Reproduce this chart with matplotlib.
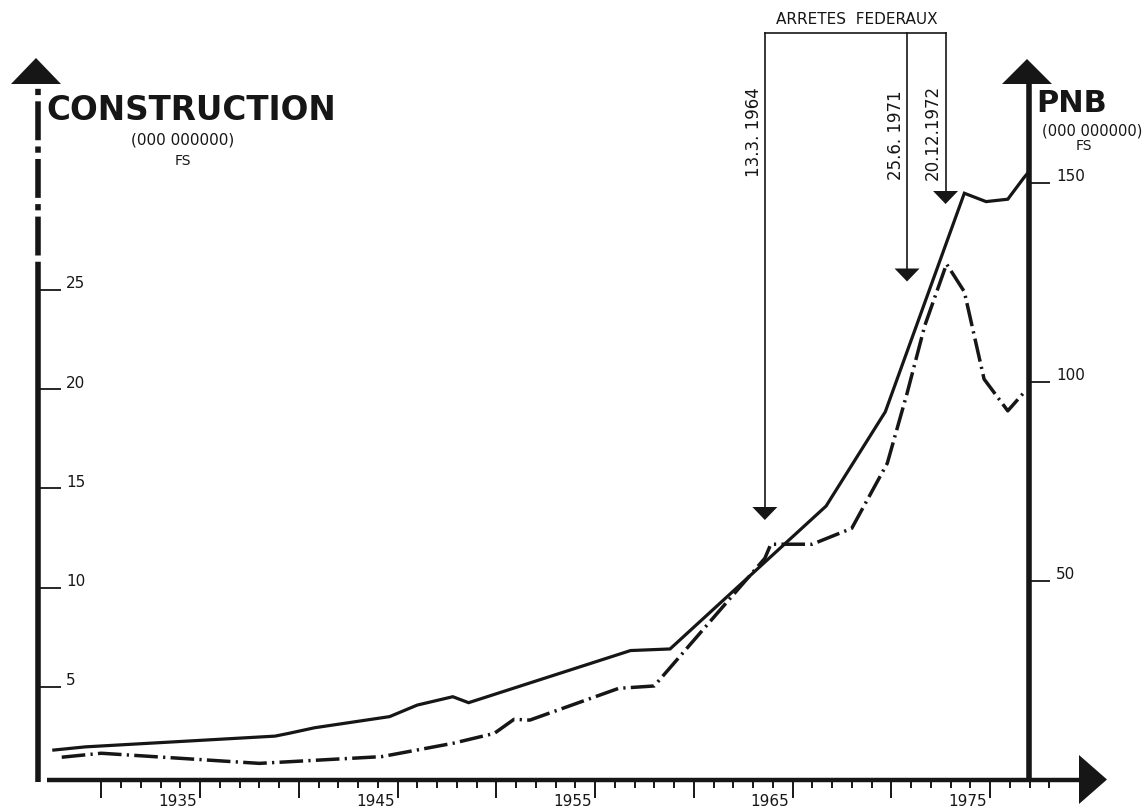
import matplotlib
matplotlib.use('Agg')
import matplotlib.pyplot as plt
from matplotlib.patches import Polygon

plt.rcParams['font.family'] = ['DejaVu Sans']
plt.rcParams['lines.scale_dashes'] = False

# ---------------- data ----------------
pnb_years = [1927.6, 1929.2, 1938.8, 1939.5, 1940.8, 1944.6, 1946.0, 1947.8,
             1948.6, 1956.8, 1958.8, 1966.7, 1969.7, 1973.7, 1974.8, 1975.9,
             1976.7, 1976.9]
pnb_values = [7.4, 8.2, 10.9, 11.6, 13.0, 15.8, 18.7, 20.8,
              19.3, 32.4, 32.8, 68.7, 92.4, 147.3, 145.2, 145.8,
              151.1, 152.3]

constr_years = [1928.0, 1930.0, 1938.0, 1944.2, 1947.8, 1949.9, 1950.9,
                1951.7, 1956.2, 1958.0, 1963.6, 1963.9, 1966.0, 1968.0,
                1969.8, 1970.8, 1971.7, 1972.8, 1973.7, 1974.7, 1975.9,
                1976.7]
constr_values = [1.45, 1.65, 1.14, 1.48, 2.15, 2.65, 3.36,
                 3.32, 4.92, 5.04, 11.47, 12.18, 12.18, 12.98,
                 16.26, 19.78, 23.2, 26.3, 24.9, 20.5, 18.9,
                 19.8]

x_label_years = [1935, 1945, 1955, 1965, 1975]
x_tick_first, x_tick_last = 1930, 1978
constr_ticks = [5, 10, 15, 20, 25]
pnb_ticks = [50, 100, 150]
decree_years = [1963.6, 1970.8, 1972.75]
decree_labels = ['13.3. 1964', '25.6. 1971', '20.12.1972']

# ---------------- layout (pixels) ----------------
W, H, DPI = 1146, 808, 100
X1975_PX, PX_PER_YEAR = 990.0, 19.75
C0_PX, PX_PER_C = 786.0, 19.85
P0_PX, PX_PER_P = 779.5, 3.98
INK = '#161616'

fig = plt.figure(figsize=(W / DPI, H / DPI), dpi=DPI)
fig.patch.set_facecolor('white')

ax = fig.add_axes([0, 0, 1, 1])
ax.set_xlim(1975 - X1975_PX / PX_PER_YEAR, 1975 + (W - X1975_PX) / PX_PER_YEAR)
ax.set_ylim(-(H - C0_PX) / PX_PER_C, C0_PX / PX_PER_C)
ax.axis('off')
ax2 = ax.twinx()
ax2.set_ylim(-(H - P0_PX) / PX_PER_P, P0_PX / PX_PER_P)
ax2.axis('off')

ov = fig.add_axes([0, 0, 1, 1], facecolor='none')
ov.set_xlim(0, W)
ov.set_ylim(H, 0)
ov.axis('off')


def xpx(year):
    return X1975_PX + (year - 1975) * PX_PER_YEAR


def cpx(v):
    return C0_PX - v * PX_PER_C


def ppx(v):
    return P0_PX - v * PX_PER_P


# ---------------- data lines ----------------
ax2.plot(pnb_years, pnb_values, color=INK, lw=2.3, solid_joinstyle='miter',
         zorder=5)
ax.plot(constr_years, constr_values, color=INK, lw=2.5,
        ls=(0, (17, 3.8, 1.6, 3.8)), dash_capstyle='butt', zorder=5)

# ---------------- axes drawn by hand ----------------
LX, RX, BY = 37.5, 1028.5, 779.5
# left axis: solid lower part, dash-dot upper part, arrowhead
ov.plot([LX, LX], [782, 268], color=INK, lw=4.0, solid_capstyle='butt')
ov.plot([LX, LX], [268, 84], color=INK, lw=4.0,
        ls=(0, (4.5, 4.5, 28, 4.5)), dash_capstyle='butt')
ov.add_patch(Polygon([[11, 84], [61, 84], [36, 58]], closed=True,
                     color=INK, lw=0))
# right axis
ov.plot([RX, RX], [BY + 1, 84], color=INK, lw=4.0, solid_capstyle='butt')
ov.add_patch(Polygon([[1002, 84], [1052, 84], [1027, 59]], closed=True,
                     color=INK, lw=0))
# x axis
ov.plot([47, 1082], [BY, BY], color=INK, lw=3.2, solid_capstyle='butt')
ov.add_patch(Polygon([[1079, 755], [1079, 804], [1107, 779.5]], closed=True,
                     color=INK, lw=0))

# x ticks
for yr in range(x_tick_first, x_tick_last + 1):
    x = xpx(yr)
    long_tick = (yr % 5 == 0)
    ov.plot([x, x], [BY, 798 if long_tick else 788], color=INK,
            lw=1.4, solid_capstyle='butt')
for yr in x_label_years:
    ov.text(xpx(yr) - 3, 802, str(yr), ha='right', va='center',
            fontsize=11, color=INK)

# left ticks (construction)
for v in constr_ticks:
    y = cpx(v)
    ov.plot([LX + 1, 61], [y, y], color=INK, lw=1.3, solid_capstyle='butt')
    ov.text(66, y - 6, str(v), ha='left', va='center', fontsize=11,
            color=INK)

# right ticks (PNB)
for v in pnb_ticks:
    y = ppx(v)
    ov.plot([RX + 1, 1050], [y, y], color=INK, lw=1.3, solid_capstyle='butt')
    ov.text(1056, y - 6, str(v), ha='left', va='center', fontsize=11,
            color=INK)

# ---------------- titles ----------------
ov.text(46, 110, 'CONSTRUCTION', ha='left', va='center', fontsize=23.5,
        fontweight='bold', color=INK)
ov.text(183, 140, '(000 000000)', ha='center', va='center', fontsize=11,
        color=INK)
ov.text(183, 161, 'FS', ha='center', va='center', fontsize=10, color=INK)

ov.text(1036, 103, 'PNB', ha='left', va='center', fontsize=22,
        fontweight='bold', color=INK)
ov.text(1092, 131, '(000 000000)', ha='center', va='center', fontsize=10.5,
        color=INK)
ov.text(1084, 146, 'FS', ha='center', va='center', fontsize=10, color=INK)

# ---------------- federal decrees ----------------
BRACKET_Y = 32.5
arrow_tops = [507, 268.5, 191]
label_dx = [-11, -11, -13]
label_cy = [132, 135, 132]
ov.text(857, 20, 'ARRETES  FEDERAUX', ha='center', va='center',
        fontsize=11, color=INK)
xs = [xpx(y) for y in decree_years]
ov.plot([xs[0], xs[-1]], [BRACKET_Y, BRACKET_Y], color=INK, lw=1.2,
        solid_capstyle='projecting')
for x, top, lab, dx, cy in zip(xs, arrow_tops, decree_labels, label_dx,
                               label_cy):
    ov.plot([x, x], [BRACKET_Y, top + 1], color=INK, lw=1.2)
    ov.add_patch(Polygon([[x - 12.5, top], [x + 12.5, top], [x, top + 13]],
                         closed=True, color=INK, lw=0))
    ov.text(x + dx, cy, lab, rotation=90, ha='center', va='center',
            fontsize=12, color=INK)

fig.savefig('out.png', dpi=DPI, facecolor='white')
